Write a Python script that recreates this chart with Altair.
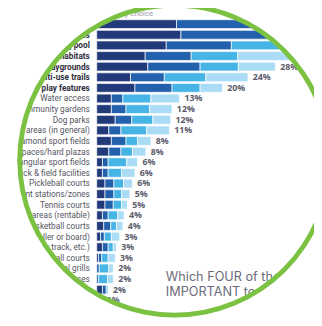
import altair as alt
import pandas as pd

categories = [
    "Walking & biking trails", "Indoor recreation facilities", "Swimming pool",
    "Natural areas/wildlife habitats", "Playgrounds", "Multi-use trails",
    "Splash pads/water play features", "Water access", "Community gardens",
    "Dog parks", "Picnic areas (in general)", "Diamond sport fields",
    "Open spaces/hard plazas", "Rectangular sport fields", "Track & field facilities",
    "Pickleball courts", "Fitness/movement stations/zones", "Tennis courts",
    "Picnic areas (rentable)", "Basketball courts", "Skate parks (roller or board)",
    "Bike facilities (pump track, etc.)", "Volleyball courts", "Charcoal grills",
    "Disc golf courses", "Horseshoe pits", "Other",
]
first = [12.5, 13.2, 10.9, 7.6, 8.0, 5.3, 6.0, 2.3, 2.3, 2.9, 1.9, 2.3, 1.9, 0.9,
         0.9, 1.3, 1.3, 1.3, 0.9, 1.1, 0.6, 0.9, 0.3, 0.0, 0.0, 0.9, 0.0]
second = [16.5, 17.0, 10.2, 7.2, 8.2, 5.3, 5.8, 1.8, 2.3, 2.6, 1.9, 2.3, 1.9, 0.9,
          0.9, 1.4, 1.4, 1.3, 0.9, 1.1, 0.6, 0.9, 0.5, 0.4, 0.3, 0.6, 0.2]
third = [10.0, 9.0, 10.0, 7.3, 6.0, 6.5, 4.4, 4.4, 3.7, 3.3, 4.0, 1.8, 1.8, 2.9,
         2.1, 1.5, 1.2, 1.3, 1.5, 0.9, 1.1, 0.8, 1.0, 1.5, 1.4, 0.3, 0.4]
fourth = [7.0, 6.0, 7.0, 10.0, 5.8, 6.6, 3.5, 4.5, 3.5, 2.8, 3.6, 2.1, 2.1, 1.7,
          2.1, 1.4, 1.3, 0.9, 1.0, 1.0, 1.3, 0.5, 1.1, 0.7, 0.9, 0.0, 0.2]
total_labels = ["46%", "45%", "38%", "32%", "28%", "24%", "20%", "13%", "12%", "12%",
                "11%", "8%", "8%", "6%", "6%", "6%", "5%", "5%", "4%", "4%", "3%",
                "3%", "3%", "2%", "2%", "2%", "1%"]
choice_names = ["1st choice", "2nd choice", "3rd choice", "4th choice"]
choice_colors = ["#22397a", "#2461ad", "#46b4e5", "#abdcf5"]
bold_count = 7
header_text = "Ranked by choice"
title_lines = ["Which FOUR of the following are MOST", "IMPORTANT to your household?"]

# layout (pixels)
LEFT = 91
PX_PER_PCT = 6.55
W, H = 223, 318
CX, CY, R = 179, 160, 159

series = [first, second, third, fourth]
rows = []
for i, c in enumerate(categories):
    for k, name in enumerate(choice_names):
        rows.append({"item": c, "choice": name, "order": k, "value": series[k][i]})
df = pd.DataFrame(rows)
lab = pd.DataFrame({
    "item": categories,
    "total": [first[i] + second[i] + third[i] + fourth[i] for i in range(len(categories))],
    "label": total_labels,
    "bold": [i < bold_count for i in range(len(categories))],
})

xs = alt.Scale(domain=[0, W / PX_PER_PCT], nice=False, zero=True)
step = 10.9
y0 = 20.4 - step / 2 - 8
ys = alt.Scale(domain=categories, range=[y0, y0 + step * len(categories)],
               paddingInner=0.17, paddingOuter=0.085)

bars = alt.Chart(df).mark_bar(stroke="white", strokeWidth=0.7).encode(
    x=alt.X("value:Q", stack="zero", scale=xs, axis=None),
    y=alt.Y("item:N", scale=ys, axis=None, sort=categories),
    color=alt.Color("choice:N", scale=alt.Scale(domain=choice_names, range=choice_colors), legend=None),
    order=alt.Order("order:Q"),
)

cat_bold = alt.Chart(lab).transform_filter("datum.bold").mark_text(
    align="right", baseline="middle", fontSize=8.5, fontWeight="bold", font="Roboto", color="#2f2f3d"
).encode(x=alt.value(-7), y=alt.Y("item:N", scale=ys, axis=None, sort=categories), text="item:N")

cat_norm = alt.Chart(lab).transform_filter("!datum.bold").mark_text(
    align="right", baseline="middle", fontSize=8.5, font="Roboto", color="#555562"
).encode(x=alt.value(-7), y=alt.Y("item:N", scale=ys, axis=None, sort=categories), text="item:N")

pct = alt.Chart(lab).mark_text(
    align="left", baseline="middle", dx=5, fontSize=9, fontWeight="bold", font="Open Sans", color="#5b5b6b"
).encode(x=alt.X("total:Q", scale=xs, axis=None),
         y=alt.Y("item:N", scale=ys, axis=None, sort=categories), text="label:N")

one = pd.DataFrame({"a": [0]})
header = alt.Chart(one).mark_text(
    align="right", baseline="middle", fontSize=8, font="Roboto", color="#9a9aaa", text=header_text
).encode(x=alt.value(157 - 99), y=alt.value(10 - 8))

tdf = pd.DataFrame({"t": title_lines, "ty": [280 - 8, 295 - 8]})
title = alt.Chart(tdf).mark_text(
    align="left", baseline="middle", fontSize=13, font="Inter", color="#6b6b7b"
).encode(x=alt.value(170 - 99),
         y=alt.Y("ty:Q", scale=alt.Scale(domain=[0, H], range=[0, H], nice=False, zero=False), axis=None),
         text="t:N")

mask = alt.Chart(one).mark_arc(theta=0, theta2=6.2832, radius=R + 2, radius2=600, color="white").encode(
    x=alt.value(CX - 99), y=alt.value(CY - 8))
ring = alt.Chart(one).mark_arc(theta=0, theta2=6.2832, radius=R + 2.5, radius2=R - 2.5, color="#7cc242").encode(
    x=alt.value(CX - 99), y=alt.value(CY - 8))

chart = alt.layer(bars, cat_bold, cat_norm, pct, header, title, mask, ring).resolve_scale(y="independent").properties(
    width=W, height=H, padding={"left": LEFT, "top": 0, "right": 0, "bottom": 0},
    autosize=alt.AutoSizeParams(type="none"),
).configure_view(stroke=None)

chart.save("out.html", embed_options={"renderer": "svg", "actions": False})
